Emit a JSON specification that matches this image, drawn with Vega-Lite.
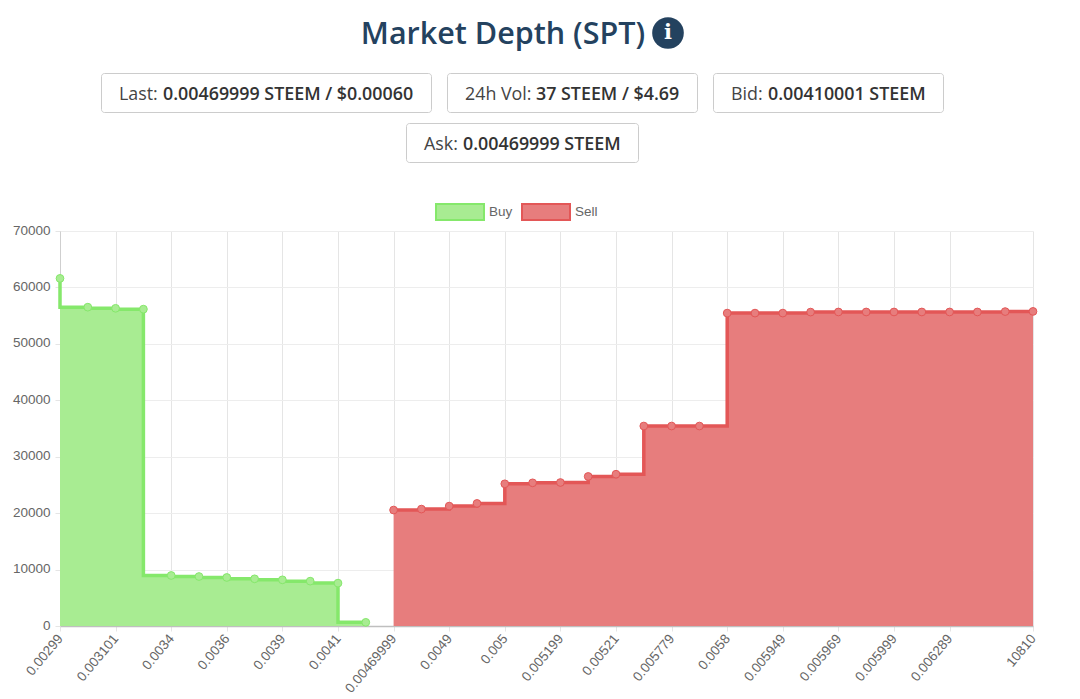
{
"$schema":"https://vega.github.io/schema/vega-lite/v6.json",
"padding":{"left":12,"top":0,"right":0,"bottom":0},
"background":"white",
"config":{"view":{"stroke":null},"font":"Liberation Sans"},
"datasets":{"header":[{"panel":"header"}],"depth":[
{"price":"0.00299","depth":61600,"side":"Buy"},
{"price":"0.003","depth":56500,"side":"Buy"},
{"price":"0.003101","depth":56300,"side":"Buy"},
{"price":"0.0033","depth":56150,"side":"Buy"},
{"price":"0.0034","depth":8950,"side":"Buy"},
{"price":"0.0035","depth":8770,"side":"Buy"},
{"price":"0.0036","depth":8600,"side":"Buy"},
{"price":"0.0037","depth":8360,"side":"Buy"},
{"price":"0.0039","depth":8180,"side":"Buy"},
{"price":"0.004","depth":7950,"side":"Buy"},
{"price":"0.0041","depth":7600,"side":"Buy"},
{"price":"0.0043","depth":650,"side":"Buy"},
{"price":"0.00469999","depth":20550,"side":"Sell"},
{"price":"0.0048","depth":20720,"side":"Sell"},
{"price":"0.0049","depth":21250,"side":"Sell"},
{"price":"0.00495","depth":21720,"side":"Sell"},
{"price":"0.005","depth":25200,"side":"Sell"},
{"price":"0.00515","depth":25370,"side":"Sell"},
{"price":"0.005199","depth":25430,"side":"Sell"},
{"price":"0.0052","depth":26500,"side":"Sell"},
{"price":"0.00521","depth":26900,"side":"Sell"},
{"price":"0.0055","depth":35440,"side":"Sell"},
{"price":"0.005779","depth":35440,"side":"Sell"},
{"price":"0.00579","depth":35440,"side":"Sell"},
{"price":"0.0058","depth":55450,"side":"Sell"},
{"price":"0.0059","depth":55450,"side":"Sell"},
{"price":"0.005949","depth":55450,"side":"Sell"},
{"price":"0.00595","depth":55630,"side":"Sell"},
{"price":"0.005969","depth":55650,"side":"Sell"},
{"price":"0.00598","depth":55650,"side":"Sell"},
{"price":"0.005999","depth":55650,"side":"Sell"},
{"price":"0.006","depth":55650,"side":"Sell"},
{"price":"0.006289","depth":55650,"side":"Sell"},
{"price":"0.0065","depth":55650,"side":"Sell"},
{"price":"0.007","depth":55720,"side":"Sell"},
{"price":"10810","depth":55750,"side":"Sell"}
]},
"spacing":61,
"bounds":"flush",
"vconcat":[
{"width":973,"height":170,
"data":{"name":"header"},
"layer":[
{"mark":{"type":"text","fontSize":30.5,"font":"Open Sans","fontWeight":600,"color":"#24425f","align":"center","baseline":"middle"},
"encoding":{"x":{"datum":503,"type":"quantitative","scale":{"domain":[60,1033],"nice":false,"zero":false},"axis":null},"y":{"datum":35,"type":"quantitative","scale":{"domain":[170,0],"nice":false,"zero":false},"axis":null},"text":{"datum":"Market Depth (SPT)"}}},
{"mark":{"type":"point","filled":true,"shape":"circle","size":1000,"color":"#24425f","opacity":1},
"encoding":{"x":{"datum":668,"type":"quantitative","axis":null},"y":{"datum":33,"type":"quantitative","axis":null}}},
{"mark":{"type":"text","fontSize":21,"font":"DejaVu Serif","fontWeight":"bold","color":"white","align":"center","baseline":"middle"},
"encoding":{"x":{"datum":668,"type":"quantitative","axis":null},"y":{"datum":33,"type":"quantitative","axis":null},"text":{"datum":"i"}}},
{"mark":{"type":"rect","fill":"white","stroke":"#cccccc","cornerRadius":3},"encoding":{"x":{"datum":101.5,"type":"quantitative","axis":null},"x2":{"datum":431.5},"y":{"datum":73.5,"type":"quantitative","axis":null},"y2":{"datum":112.5}}},
{"mark":{"type":"rect","fill":"white","stroke":"#cccccc","cornerRadius":3},"encoding":{"x":{"datum":447.5,"type":"quantitative","axis":null},"x2":{"datum":697.5},"y":{"datum":73.5,"type":"quantitative","axis":null},"y2":{"datum":112.5}}},
{"mark":{"type":"rect","fill":"white","stroke":"#cccccc","cornerRadius":3},"encoding":{"x":{"datum":713.5,"type":"quantitative","axis":null},"x2":{"datum":943.5},"y":{"datum":73.5,"type":"quantitative","axis":null},"y2":{"datum":112.5}}},
{"mark":{"type":"rect","fill":"white","stroke":"#cccccc","cornerRadius":3},"encoding":{"x":{"datum":406.5,"type":"quantitative","axis":null},"x2":{"datum":638.5},"y":{"datum":123.5,"type":"quantitative","axis":null},"y2":{"datum":162.5}}},
{"mark":{"type":"text","fontSize":17.85,"font":"Open Sans","color":"#444444","align":"left","baseline":"middle"},"encoding":{"x":{"datum":119,"type":"quantitative","axis":null},"y":{"datum":94.5,"type":"quantitative","axis":null},"text":{"datum":"Last:"}}},
{"mark":{"type":"text","fontSize":17.85,"font":"Open Sans","fontWeight":600,"color":"#333333","align":"left","baseline":"middle"},"encoding":{"x":{"datum":163,"type":"quantitative","axis":null},"y":{"datum":94.5,"type":"quantitative","axis":null},"text":{"datum":"0.00469999 STEEM / $0.00060"}}},
{"mark":{"type":"text","fontSize":17.85,"font":"Open Sans","color":"#444444","align":"left","baseline":"middle"},"encoding":{"x":{"datum":465,"type":"quantitative","axis":null},"y":{"datum":94.5,"type":"quantitative","axis":null},"text":{"datum":"24h Vol:"}}},
{"mark":{"type":"text","fontSize":17.85,"font":"Open Sans","fontWeight":600,"color":"#333333","align":"left","baseline":"middle"},"encoding":{"x":{"datum":536,"type":"quantitative","axis":null},"y":{"datum":94.5,"type":"quantitative","axis":null},"text":{"datum":"37 STEEM / $4.69"}}},
{"mark":{"type":"text","fontSize":17.85,"font":"Open Sans","color":"#444444","align":"left","baseline":"middle"},"encoding":{"x":{"datum":731,"type":"quantitative","axis":null},"y":{"datum":94.5,"type":"quantitative","axis":null},"text":{"datum":"Bid:"}}},
{"mark":{"type":"text","fontSize":17.85,"font":"Open Sans","fontWeight":600,"color":"#333333","align":"left","baseline":"middle"},"encoding":{"x":{"datum":768,"type":"quantitative","axis":null},"y":{"datum":94.5,"type":"quantitative","axis":null},"text":{"datum":"0.00410001 STEEM"}}},
{"mark":{"type":"text","fontSize":17.85,"font":"Open Sans","color":"#444444","align":"left","baseline":"middle"},"encoding":{"x":{"datum":424,"type":"quantitative","axis":null},"y":{"datum":144.5,"type":"quantitative","axis":null},"text":{"datum":"Ask:"}}},
{"mark":{"type":"text","fontSize":17.85,"font":"Open Sans","fontWeight":600,"color":"#333333","align":"left","baseline":"middle"},"encoding":{"x":{"datum":463,"type":"quantitative","axis":null},"y":{"datum":144.5,"type":"quantitative","axis":null},"text":{"datum":"0.00469999 STEEM"}}}
]},
{"width":973,"height":395,
"data":{"name":"depth"},
"encoding":{
"x":{"field":"price","type":"nominal","title":null,
"scale":{"type":"point","padding":0,"domain":["0.00299","0.003","0.003101","0.0033","0.0034","0.0035","0.0036","0.0037","0.0039","0.004","0.0041","0.0043","0.00469999","0.0048","0.0049","0.00495","0.005","0.00515","0.005199","0.0052","0.00521","0.0055","0.005779","0.00579","0.0058","0.0059","0.005949","0.00595","0.005969","0.00598","0.005999","0.006","0.006289","0.0065","0.007","10810"]},
"axis":{"values":["0.00299","0.003101","0.0034","0.0036","0.0039","0.0041","0.00469999","0.0049","0.005","0.005199","0.00521","0.005779","0.0058","0.005949","0.005969","0.005999","0.006289","10810"],
"labelAngle":-50,"labelAlign":"right","labelBaseline":"middle","labelFontSize":13.5,"labelColor":"#666666","labelPadding":5,"labelOverlap":false,"labelFlush":false,"tickSize":5,"tickColor":"#e5e5e5","domainColor":"#bfbfbf","domainWidth":1.5,"grid":true,"gridColor":"#e5e5e5"}},
"y":{"field":"depth","type":"quantitative","title":null,
"scale":{"domain":[0,70000],"nice":false},
"axis":{"values":[0,10000,20000,30000,40000,50000,60000,70000],"format":"d","labelFontSize":13.5,"labelColor":"#666666","labelPadding":5,"labelOffset":-1,"tickSize":5,"tickColor":"#e5e5e5","domainColor":"#cfcfcf","grid":true,"gridColor":"#ededed"}}
},
"layer":[
{"transform":[{"filter":"datum.side==='Buy'"}],"mark":{"type":"area","interpolate":"step-before","opacity":1},
"encoding":{"fill":{"field":"side","type":"nominal","title":null,"scale":{"domain":["Buy","Sell"],"range":["#a8ec92","#e77d7d"]},
"legend":{"orient":"none","legendX":375,"legendY":187,"direction":"horizontal","columns":2,"symbolType":"M-1,-0.333H1V0.333H-1Z","symbolSize":2304,"symbolStrokeWidth":2,"symbolOpacity":1,"labelFontSize":13.5,"labelColor":"#666666","labelOffset":4,"columnPadding":5,"rowPadding":0,"gridAlign":"each"}}}},
{"transform":[{"filter":"datum.side==='Sell'"}],"mark":{"type":"area","interpolate":"step-after","opacity":1},
"encoding":{"fill":{"field":"side","type":"nominal","title":null}}},
{"transform":[{"filter":"datum.side==='Buy'"}],"mark":{"type":"line","interpolate":"step-before","strokeWidth":3.5},
"encoding":{"stroke":{"field":"side","type":"nominal","title":null,"scale":{"domain":["Buy","Sell"],"range":["#85e86b","#e35757"]}}}},
{"transform":[{"filter":"datum.side==='Sell'"}],"mark":{"type":"line","interpolate":"step-after","strokeWidth":3.5},
"encoding":{"stroke":{"field":"side","type":"nominal","title":null}}},
{"mark":{"type":"point","filled":true,"shape":"circle","size":60,"opacity":1,"strokeWidth":1},
"encoding":{"fill":{"field":"side","type":"nominal","title":null},"stroke":{"field":"side","type":"nominal","title":null}}}
]}
]
}
